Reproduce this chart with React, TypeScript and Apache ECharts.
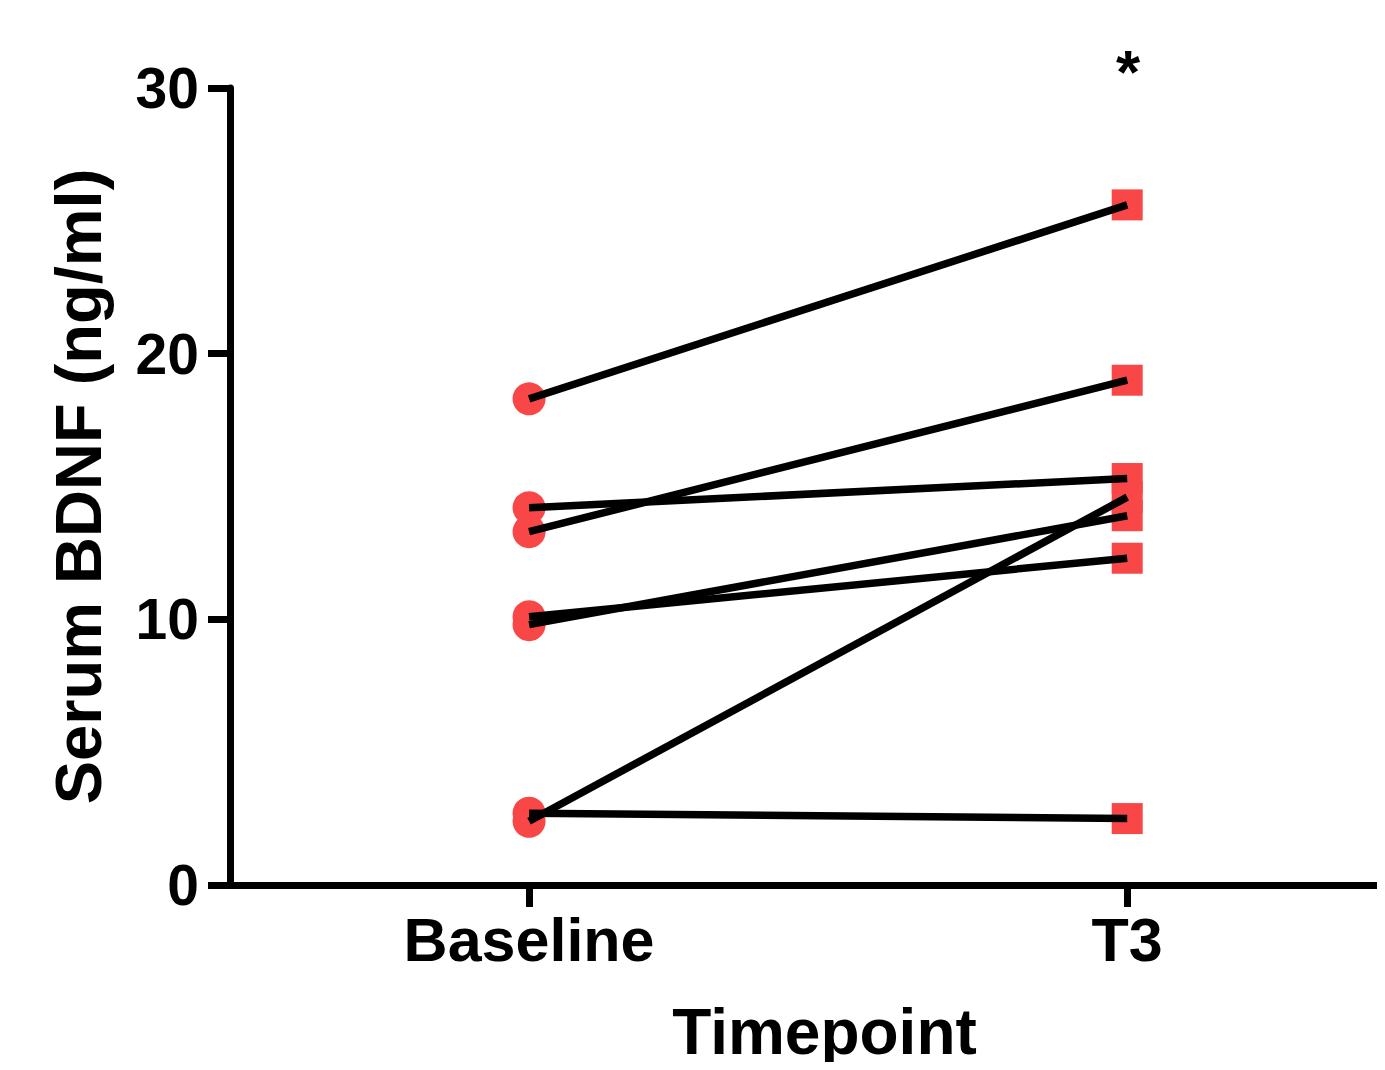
import React, { useEffect, useRef } from "react";
import * as echarts from "echarts";

const categories = ["Baseline", "T3"];
const baselineValues = [18.3, 13.3, 14.2, 9.8, 10.1, 2.4, 2.7];
const t3Values = [25.6, 19.0, 15.3, 13.9, 12.3, 14.6, 2.5];
const yTicks = { min: 0, max: 30, interval: 10 };
const yTitle = "Serum BDNF (ng/ml)";
const xTitle = "Timepoint";
const significance = "*";

const FONT = "'Liberation Sans', Arial, Helvetica, sans-serif";
const RED = "#F94646";
const X_MIN = -0.5;
const X_MAX = 1.431;

export default function App() {
  const ref = useRef<HTMLDivElement>(null);
  useEffect(() => {
    if (!ref.current) return;
    const chart = echarts.init(ref.current, null, { renderer: "svg" });
    const catIdx = categories.map((_, i) => i);
    const lineSeries = baselineValues.map((b, i) => ({
      type: "line",
      z: 5,
      symbol: "none",
      silent: true,
      lineStyle: { color: "#000", width: 7.5 },
      data: [
        [0, b],
        [1, t3Values[i]],
      ],
    }));
    chart.setOption({
      animation: false,
      backgroundColor: "#fff",
      grid: { left: 230, top: 88, bottom: 185, right: 0, containLabel: false },
      xAxis: {
        type: "value",
        min: X_MIN,
        max: X_MAX,
        name: xTitle,
        nameLocation: "middle",
        nameGap: 115,
        nameTextStyle: {
          fontFamily: FONT,
          fontWeight: "bold",
          fontSize: 64,
          color: "#000",
          padding: [0, 0, 0, 34],
        },
        axisLine: { show: true, onZero: false, lineStyle: { color: "#000", width: 7 } },
        axisTick: {
          show: true,
          customValues: catIdx,
          length: 22,
          lineStyle: { color: "#000", width: 7 },
        },
        axisLabel: {
          customValues: catIdx,
          formatter: (v: number) => categories[Math.round(v)] ?? "",
          fontFamily: FONT,
          fontWeight: "bold",
          fontSize: 61,
          color: "#000",
          margin: 24,
        },
        splitLine: { show: false },
      },
      yAxis: {
        type: "value",
        min: yTicks.min,
        max: yTicks.max,
        interval: yTicks.interval,
        name: yTitle,
        nameLocation: "middle",
        nameGap: 119,
        nameTextStyle: { fontFamily: FONT, fontWeight: "bold", fontSize: 65, color: "#000" },
        axisLine: { show: true, onZero: false, lineStyle: { color: "#000", width: 7 } },
        axisTick: { show: true, length: 22, lineStyle: { color: "#000", width: 7 } },
        axisLabel: { fontFamily: FONT, fontWeight: "bold", fontSize: 57, color: "#000", margin: 31 },
        splitLine: { show: false },
      },
      graphic: [
        {
          type: "text",
          x: 1128,
          y: 71,
          style: {
            text: significance,
            fontFamily: FONT,
            fontWeight: "bold",
            fontSize: 62,
            fill: "#000",
            textAlign: "center",
            textVerticalAlign: "middle",
          },
        },
      ],
      series: [
        {
          type: "scatter",
          z: 2,
          symbol: "circle",
          symbolSize: 33,
          itemStyle: { color: RED, opacity: 1 },
          data: baselineValues.map((v) => [0, v]),
        },
        {
          type: "scatter",
          z: 2,
          symbol: "rect",
          symbolSize: 31,
          itemStyle: { color: RED, opacity: 1 },
          data: t3Values.map((v) => [1, v]),
        },
        ...lineSeries,
      ],
    });
    return () => chart.dispose();
  }, []);
  return <div ref={ref} style={{ width: 1385, height: 1070, margin: -8 }} />;
}
